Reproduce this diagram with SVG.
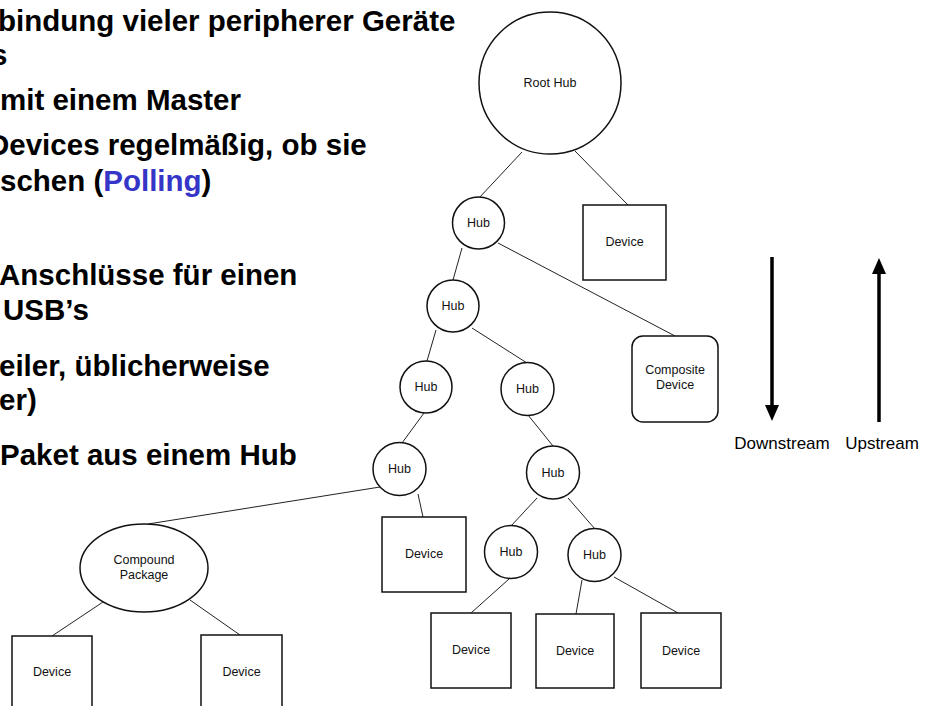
<svg xmlns="http://www.w3.org/2000/svg" width="928" height="706" viewBox="0 0 928 706">
<style>
.bt{font-family:"Liberation Sans",Arial,sans-serif;font-weight:bold;font-size:29.5px;fill:#000}
.bl{fill:#3535c8}
.nd{fill:#fff;stroke:#111;stroke-width:1.5}
.lb{font-family:"Liberation Sans",Arial,sans-serif;font-size:12.5px;fill:#111;text-anchor:middle}
.cn line{stroke:#222;stroke-width:1}
.ar{stroke:#000;stroke-width:3.5}
.al{font-family:"Liberation Sans",Arial,sans-serif;font-size:17px;fill:#000;text-anchor:middle}
</style>
<defs>
<marker id="ah" viewBox="0 0 16 14" refX="0" refY="7" markerWidth="16" markerHeight="14" markerUnits="userSpaceOnUse" orient="auto">
<path d="M0,0 L16,7 L0,14 z" fill="#000"/>
</marker>
</defs>
<rect width="928" height="706" fill="#fff"/>
<g id="text">
<text class="bt" x="-2" y="31">bindung vieler peripherer Geräte</text>
<text class="bt" x="-9" y="65">s</text>
<text class="bt" x="0" y="110">mit einem Master</text>
<text class="bt" x="-12" y="155">Devices regelmäßig, ob sie</text>
<text class="bt" x="0" y="191">schen (<tspan class="bl">Polling</tspan>)</text>
<text class="bt" x="-1" y="285">Anschlüsse für einen</text>
<text class="bt" x="3" y="320">USB’s</text>
<text class="bt" x="-1" y="376">eiler, üblicherweise</text>
<text class="bt" x="-1" y="410">er)</text>
<text class="bt" x="0" y="465">Paket aus einem Hub</text>
</g>
<g id="connectors" class="cn">
<line x1="522" y1="152" x2="479" y2="198"/>
<line x1="575" y1="151" x2="628" y2="205"/>
<line x1="462" y1="248" x2="453" y2="280"/>
<line x1="498" y1="243" x2="675" y2="336"/>
<line x1="436" y1="330" x2="427" y2="361"/>
<line x1="472" y1="328" x2="527" y2="363"/>
<line x1="424" y1="413" x2="402" y2="443"/>
<line x1="528" y1="415" x2="553" y2="446"/>
<line x1="380" y1="487" x2="148" y2="524"/>
<line x1="418" y1="494" x2="423" y2="517"/>
<line x1="103" y1="602" x2="52" y2="636"/>
<line x1="190" y1="600" x2="240" y2="635"/>
<line x1="537" y1="498" x2="511" y2="526"/>
<line x1="568" y1="498" x2="595" y2="529"/>
<line x1="509" y1="579" x2="471" y2="613"/>
<line x1="582" y1="580" x2="576" y2="614"/>
<line x1="614" y1="577" x2="678" y2="613"/>
</g>
<g id="root-hub"><circle class="nd" cx="550" cy="83" r="71"/><text class="lb" x="550" y="87">Root Hub</text></g>
<g id="hub1"><circle class="nd" cx="478.5" cy="223" r="26"/><text class="lb" x="478.5" y="227">Hub</text></g>
<g id="device-top"><rect class="nd" x="583" y="205" width="83" height="75"/><text class="lb" x="624.5" y="246">Device</text></g>
<g id="hub2"><circle class="nd" cx="453" cy="306" r="26"/><text class="lb" x="453" y="310">Hub</text></g>
<g id="composite"><rect class="nd" x="632" y="336" width="86" height="86" rx="11"/><text class="lb" x="675" y="374">Composite</text><text class="lb" x="675" y="389">Device</text></g>
<g id="hub3"><circle class="nd" cx="426" cy="387" r="26"/><text class="lb" x="426" y="391">Hub</text></g>
<g id="hub4"><circle class="nd" cx="527.5" cy="389" r="26.5"/><text class="lb" x="527.5" y="393">Hub</text></g>
<g id="hub5"><circle class="nd" cx="399.5" cy="469" r="26.5"/><text class="lb" x="399.5" y="473">Hub</text></g>
<g id="hub6"><circle class="nd" cx="553" cy="472.5" r="26.5"/><text class="lb" x="553" y="476.5">Hub</text></g>
<g id="hub7"><circle class="nd" cx="511" cy="552" r="26.5"/><text class="lb" x="511" y="556">Hub</text></g>
<g id="hub8"><circle class="nd" cx="594.5" cy="555" r="26.5"/><text class="lb" x="594.5" y="559">Hub</text></g>
<g id="compound"><ellipse class="nd" cx="144" cy="568" rx="64" ry="44"/><text class="lb" x="144" y="564">Compound</text><text class="lb" x="144" y="579">Package</text></g>
<g id="device-mid"><rect class="nd" x="382" y="517" width="84" height="75"/><text class="lb" x="424" y="558">Device</text></g>
<g id="device-left"><rect class="nd" x="12" y="636" width="80" height="80"/><text class="lb" x="52" y="676">Device</text></g>
<g id="device-right"><rect class="nd" x="201" y="635" width="81" height="80"/><text class="lb" x="241.5" y="676">Device</text></g>
<g id="device-a"><rect class="nd" x="431" y="613" width="80" height="75"/><text class="lb" x="471" y="654">Device</text></g>
<g id="device-b"><rect class="nd" x="536" y="614" width="78" height="74"/><text class="lb" x="575" y="655">Device</text></g>
<g id="device-c"><rect class="nd" x="641" y="613" width="80" height="75"/><text class="lb" x="681" y="655">Device</text></g>
<g id="downstream"><line class="ar" x1="772" y1="257" x2="772" y2="405" marker-end="url(#ah)"/><text class="al" x="782" y="449">Downstream</text></g>
<g id="upstream"><line class="ar" x1="879" y1="422" x2="879" y2="274" marker-end="url(#ah)"/><text class="al" x="882" y="449">Upstream</text></g>
</svg>
